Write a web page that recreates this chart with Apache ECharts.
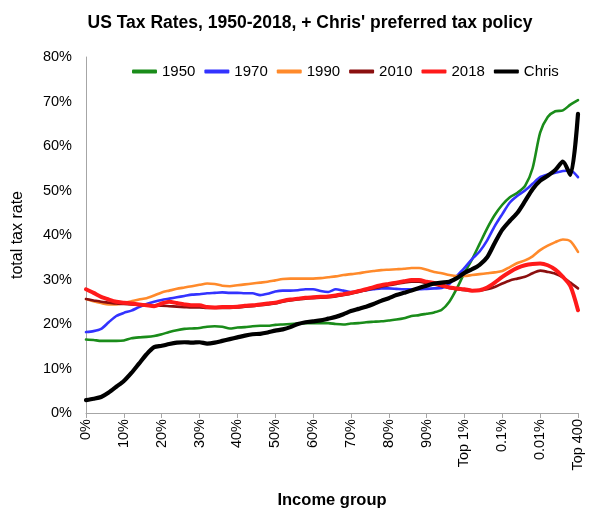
<!DOCTYPE html>
<html>
<head>
<meta charset="utf-8">
<script src="https://cdn.jsdelivr.net/npm/echarts@6/dist/echarts.min.js"></script>
<style>
html,body{margin:0;padding:0;background:#fff;}
#chart{width:594px;height:514px;}
</style>
</head>
<body>
<div id="chart"></div>
<script>
// Tick labels on the income-group axis (one every 5 categories)
const tickLabels = ['0%','10%','20%','30%','40%','50%','60%','70%','80%','90%','Top 1%','0.1%','0.01%','Top 400'];
const seriesNames = ['1950','1970','1990','2010','2018','Chris'];

const rate1950 = [16.5,16.4,16.2,16.2,16.2,16.3,16.8,17.0,17.1,17.3,
  17.7,18.2,18.6,18.9,19.0,19.1,19.4,19.5,19.4,19.0,
  19.2,19.3,19.5,19.6,19.6,19.8,19.9,20.0,20.1,20.2,
  20.2,20.2,20.2,20.0,19.9,20.1,20.2,20.4,20.5,20.6,
  20.8,21.0,21.3,21.8,22.0,22.3,22.6,23.2,25.0,28.0,
  31.5,34.5,38.0,41.5,44.5,46.8,48.5,49.5,51.0,55.0,
  63.0,66.5,67.8,68.0,69.3,70.3];
const rate1970 = [18.2,18.4,18.9,20.4,21.8,22.5,23.0,23.8,24.5,25.0,
  25.4,25.7,26.0,26.3,26.6,26.7,26.9,27.0,27.1,27.0,
  27.0,26.9,26.9,26.5,26.8,27.3,27.5,27.5,27.6,27.8,
  27.8,27.4,27.2,27.8,27.5,27.2,27.3,27.6,27.8,28.0,
  28.0,27.9,27.8,27.8,27.8,27.9,28.0,28.1,29.0,30.8,
  32.6,34.6,36.3,38.8,42.0,44.7,47.3,48.8,50.0,51.5,
  53.0,53.6,54.0,54.4,54.5,53.0];
const rate1990 = [25.6,25.1,24.7,24.4,24.4,24.7,25.1,25.5,25.8,26.4,
  27.1,27.5,27.9,28.2,28.5,28.8,29.1,29.0,28.6,28.5,
  28.7,28.9,29.1,29.3,29.5,29.8,30.1,30.2,30.2,30.2,
  30.2,30.3,30.5,30.7,31.0,31.2,31.4,31.7,31.9,32.1,
  32.2,32.3,32.4,32.6,32.6,32.2,31.7,31.4,31.0,30.8,
  30.8,31.0,31.2,31.4,31.6,31.9,32.8,33.7,34.3,35.2,
  36.6,37.6,38.4,39.0,38.6,36.2];
const rate2010 = [25.6,25.3,25.0,24.8,24.6,24.5,24.4,24.3,24.2,24.1,
  24.1,24.0,23.9,23.8,23.7,23.7,23.6,23.6,23.6,23.6,
  23.7,23.9,24.0,24.2,24.4,24.6,25.0,25.3,25.5,25.7,
  25.8,25.9,26.0,26.2,26.5,26.8,27.2,27.6,28.0,28.4,
  28.7,29.0,29.3,29.5,29.5,29.2,28.9,28.5,28.1,27.8,
  27.6,27.5,27.5,27.8,28.3,29.1,29.8,30.2,30.6,31.4,
  32.0,31.7,31.3,30.5,29.3,28.0];
const rate2018 = [27.8,27.0,26.1,25.5,25.0,24.8,24.6,24.4,24.2,24.0,
  24.6,25.0,24.7,24.4,24.2,24.2,23.8,23.7,23.8,23.8,
  23.9,24.1,24.2,24.4,24.6,24.8,25.2,25.5,25.7,25.9,
  26.0,26.1,26.2,26.4,26.7,27.0,27.4,27.8,28.3,28.7,
  29.0,29.3,29.6,29.9,29.9,29.5,29.2,28.7,28.2,28.0,
  27.8,27.5,27.6,28.2,29.3,30.6,31.7,32.6,33.2,33.5,
  33.6,33.2,32.2,30.6,28.5,23.1];
const rateChris = [2.9,3.2,3.6,4.6,5.9,7.2,9.0,11.1,13.2,14.8,
  15.1,15.5,15.8,15.9,15.8,15.9,15.6,15.8,16.2,16.6,
  17.0,17.4,17.7,17.8,18.1,18.5,18.8,19.3,20.0,20.4,
  20.6,20.8,21.2,21.6,22.2,22.9,23.4,23.9,24.5,25.2,
  25.8,26.5,27.0,27.5,28.1,28.6,29.1,29.3,29.5,30.3,
  31.5,32.3,33.3,35.0,38.2,41.2,43.2,45.0,47.6,50.3,
  52.2,53.3,54.6,56.5,53.5,67.2];

const seriesData = [rate1950, rate1970, rate1990, rate2010, rate2018, rateChris];
const colors = ['#1a8c1a','#3333ff','#ff8a2b','#8b0f0f','#ff1a1a','#000000'];
const widths = [2.6,2.6,2.6,2.6,4,4.2];

// category axis: one category per data point; every 5th carries a tick label
const categories = rate1950.map((v, i) => (i % 5 === 0 ? tickLabels[i / 5] : ''));

const FONT = 'Liberation Sans, Arial, sans-serif';
const chart = echarts.init(document.getElementById('chart'), null, {renderer: 'canvas'});
chart.setOption({
  animation: false,
  backgroundColor: '#fff',
  textStyle: {fontFamily: FONT},
  title: {
    text: "US Tax Rates, 1950-2018, + Chris' preferred tax policy",
    left: 305, top: 9, textAlign: 'center',
    textStyle: {fontFamily: FONT, fontSize: 17.5, fontWeight: 'bold', color: '#000'}
  },
  legend: {
    left: 127, top: 59,
    itemWidth: 25, itemHeight: 4, itemGap: 9,
    icon: 'roundRect',
    textStyle: {fontFamily: FONT, fontSize: 15, color: '#000'},
    data: seriesNames
  },
  grid: {left: 86, right: 16, top: 57, bottom: 93, containLabel: false},
  xAxis: {
    type: 'category',
    data: categories,
    boundaryGap: false,
    name: 'Income group',
    nameLocation: 'middle',
    nameGap: 79,
    nameTextStyle: {fontFamily: FONT, fontSize: 16.5, fontWeight: 'bold', color: '#000'},
    axisLine: {lineStyle: {color: '#a6a6a6', width: 1}},
    axisTick: {show: true, interval: 4, length: 5, lineStyle: {color: '#a6a6a6'}},
    axisLabel: {interval: 4, rotate: 90, margin: 6, fontFamily: FONT, fontSize: 14.5, color: '#000'},
    splitLine: {show: false}
  },
  yAxis: {
    type: 'value',
    min: 0, max: 80, interval: 10,
    name: 'total tax rate',
    nameLocation: 'middle',
    nameGap: 60,
    nameTextStyle: {fontFamily: FONT, fontSize: 16, color: '#000'},
    axisLine: {show: true, lineStyle: {color: '#a6a6a6', width: 1}},
    axisTick: {show: false},
    axisLabel: {formatter: '{value}%', margin: 14, fontFamily: FONT, fontSize: 14.5, color: '#000'},
    splitLine: {show: false}
  },
  series: seriesNames.map((name, k) => ({
    name: name,
    type: 'line',
    data: seriesData[k],
    symbol: 'none',
    smooth: 0.25,
    color: colors[k],
    lineStyle: {color: colors[k], width: widths[k], cap: 'round', join: 'round'},
    itemStyle: {color: colors[k]},
    z: 2 + k
  }))
});
</script>
</body>
</html>
